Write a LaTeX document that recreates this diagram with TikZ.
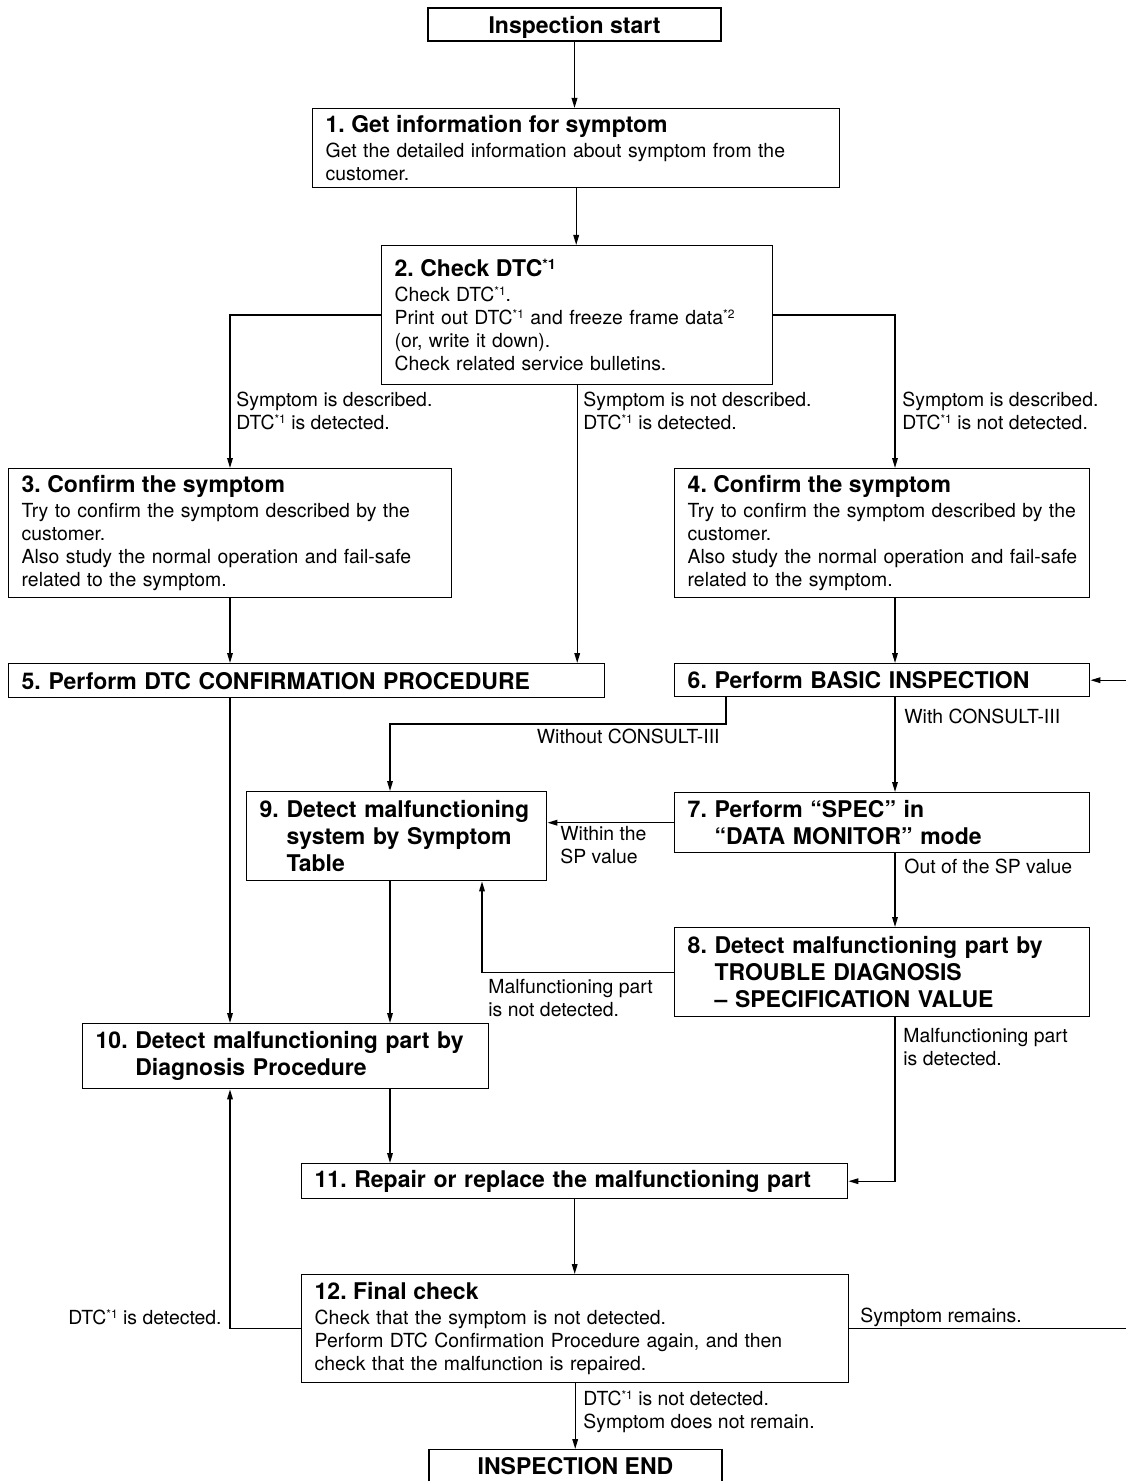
\documentclass[tikz,border=0pt]{standalone}
\usepackage{fontspec}
\usepackage{graphicx}
\setmainfont{TeX Gyre Heros}
\usetikzlibrary{arrows.meta}
\setlength{\parindent}{0pt}
\frenchspacing
\newcommand{\bodyfont}{\fontsize{9.7}{11.5}\selectfont}
\newcommand{\headfont}{\fontsize{11.5}{13.5}\selectfont\bfseries}
\newcommand{\head}[1]{{\headfont #1}}
\newcommand{\raisednote}[1]{\raisebox{0.3em}{\scalebox{0.62}{#1}}}
\newcommand{\dtc}{DTC\raisednote{*1}}
\newcommand{\numsp}[1]{\hphantom{#1\ }}
\tikzset{
  box/.style={draw, line width=0.7pt, anchor=north west, align=left,
    inner xsep=6.5pt, inner ysep=0pt, font=\bodyfont},
  headbox/.style={box, font=\headfont},
  endbox/.style={draw, line width=0.7pt, font=\headfont, text depth=0pt,
    minimum width=146.5pt, minimum height=16.5pt},
  lbl/.style={inner sep=0pt, align=left, anchor=north west, font=\bodyfont},
  flow/.style={line width=0.7pt, ->}
}
\begin{document}
\begin{tikzpicture}[x=0.5pt, y=-0.5pt, >={Triangle[length=5pt,width=2.8pt]}]
\useasboundingbox (0,0) rectangle (1125,1481);
% columns of the connectors
\coordinate (lcol) at (230,0);
\coordinate (ncol) at (390,0);
\coordinate (bcol) at (482,0);
\coordinate (rcol) at (895,0);
\coordinate (wbend) at (726,724);
\coordinate (loop) at (1135,0);

\node[endbox] (istart) at (574.5,24.5) {Inspection start};
\node[box, text width=250.5pt, minimum height=39.5pt] (info) at (312,108)
  {\head{1. Get information for symptom}\\[1pt]Get the detailed information about symptom from the\\customer.};
\node[box, text width=182.5pt, minimum height=69.5pt] (chk) at (381,245)
  {\head{2. Check \dtc}\\[1pt]Check \dtc.\\Print out \dtc{} and freeze frame data\raisednote{*2}\\(or, write it down).\\Check related service bulletins.};
\node[box, text width=208.5pt, minimum height=64.5pt] (conf3) at (8,468)
  {\head{3. Confirm the symptom}\\[1pt]Try to confirm the symptom described by the\\customer.\\\mbox{Also study the normal operation and fail-safe}\\related to the symptom.};
\node[box, text width=194.5pt, minimum height=64.5pt] (conf4) at (674,468)
  {\head{4. Confirm the symptom}\\[1pt]\mbox{Try to confirm the symptom described by the}\\customer.\\\mbox{Also study the normal operation and fail-safe}\\related to the symptom.};
\node[headbox, text width=285pt, minimum height=17pt] (dtcproc) at (8,663)
  {5. Perform DTC CONFIRMATION PROCEDURE};
\node[headbox, text width=194.5pt, minimum height=16.5pt] (basic) at (674,663)
  {6. Perform BASIC INSPECTION};
\node[headbox, text width=194.5pt, minimum height=30pt] (spec) at (674,792)
  {7. Perform “SPEC” in\\\numsp{7.}“DATA MONITOR” mode};
\node[headbox, text width=194.5pt, minimum height=44.5pt] (trouble) at (674,927)
  {8. Detect malfunctioning part by\\\numsp{8.}TROUBLE DIAGNOSIS\\\numsp{8.}– SPECIFICATION VALUE};
\node[headbox, text width=137pt, minimum height=44.5pt] (symtab) at (246,791)
  {9. Detect malfunctioning\\\numsp{9.}system by Symptom\\\numsp{9.}Table};
\node[headbox, text width=190pt, minimum height=32.5pt] (diag) at (82,1023)
  {10. Detect malfunctioning part by\\\numsp{10.}Diagnosis Procedure};
\node[headbox, text width=260pt, minimum height=17.5pt] (repair) at (301,1163)
  {11. Repair or replace the malfunctioning part};
\node[box, text width=260.5pt, minimum height=54pt] (final) at (301,1274)
  {\head{12. Final check}\\[1pt]Check that the symptom is not detected.\\Perform DTC Confirmation Procedure again, and then\\check that the malfunction is repaired.};
\node[endbox, anchor=north] (iend) at (575.5,1449) {INSPECTION END};

% labels of the branches
\node[lbl] (ldesc) at (236,390) {\strut Symptom is described.\\\dtc{} is detected.};
\node[lbl] (lnodesc) at (583,390) {\strut Symptom is not described.\\\dtc{} is detected.};
\node[lbl] (lnodtc) at (902,390) {\strut Symptom is described.\\\dtc{} is not detected.};
\node[lbl, anchor=north east] (lwithout) at (720,727) {\strut Without CONSULT-III};
\node[lbl] (lwith) at (904,707) {\strut With CONSULT-III};
\node[lbl] (lwithin) at (560,824) {\strut Within the\\SP value};
\node[lbl] (lout) at (904,857) {\strut Out of the SP value};
\node[lbl] (lnotfound) at (488,977) {\strut Malfunctioning part\\is not detected.};
\node[lbl] (lfound) at (903,1026) {\strut Malfunctioning part\\is detected.};
\node[lbl, anchor=north east] (lagain) at (222,1308) {\strut\dtc{} is detected.};
\node[lbl] (lremain) at (860,1306) {\strut Symptom remains.};
\node[lbl] (lok) at (583,1389) {\strut\dtc{} is not detected.\\Symptom does not remain.};

\draw[flow] (istart.south) -- (istart.south |- info.north);
\draw[flow] (info.south) -- (info.south |- chk.north);
\draw[flow] (chk.west) -| (lcol |- conf3.north);
\draw[flow] (chk.east) -| (rcol |- conf4.north);
\draw[flow] (chk.south) -- (chk.south |- dtcproc.north);
\draw[flow] (conf3.south -| lcol) -- (lcol |- dtcproc.north);
\draw[flow] (conf4.south -| rcol) -- (rcol |- basic.north);
\draw[flow] (dtcproc.south -| lcol) -- (lcol |- diag.north);
% without CONSULT-III
\draw[flow] (basic.south -| wbend) -- (wbend) -| (ncol |- symtab.north);
\draw[flow] (basic.south -| rcol) -- (rcol |- spec.north);
\draw[flow] (spec.west) -- (spec.west -| symtab.east);
\draw[flow] (spec.south -| rcol) -- (rcol |- trouble.north);
\draw[flow] (trouble.west) -| (bcol |- symtab.south);
\draw[flow] (trouble.south -| rcol) |- (repair.east);
\draw[flow] (symtab.south -| ncol) -- (ncol |- diag.north);
\draw[flow] (diag.south -| ncol) -- (ncol |- repair.north);
\draw[flow] (repair.south) -- (repair.south |- final.north);
% back from the final check
\draw[flow] (final.west) -| (lcol |- diag.south);
\draw[flow] (final.east) -- (final.east -| loop) |- (basic.east);
\draw[flow] (final.south) -- (final.south |- iend.north);
\end{tikzpicture}
\end{document}
